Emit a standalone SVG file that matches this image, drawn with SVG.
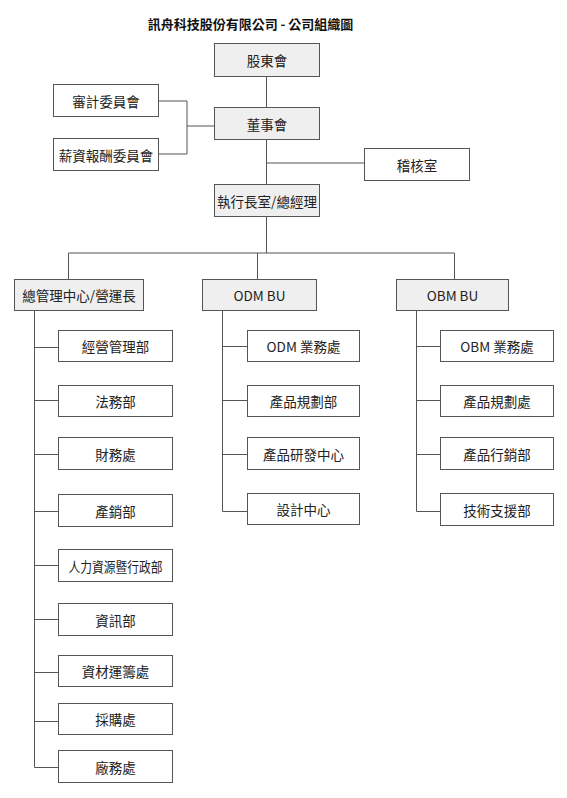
<svg xmlns="http://www.w3.org/2000/svg" width="567" height="798" viewBox="0 0 567 798">
<style>
.b{fill:#fff;stroke:#555;stroke-width:1}
.g{fill:#efefef;stroke:#555;stroke-width:1}
.t{font-family:"Noto Sans CJK TC","Noto Sans",sans-serif;font-size:13.5px;fill:#222;text-anchor:middle;dominant-baseline:central}
.title{font-family:"Noto Sans CJK TC","Noto Sans",sans-serif;font-size:13px;font-weight:bold;fill:#111;text-anchor:middle;dominant-baseline:central}
.c{fill:none;stroke:#555;stroke-width:1}
</style>
<rect width="567" height="798" fill="#fff"/>
<text class="title" x="250.5" y="23">訊舟科技股份有限公司 - 公司組織圖</text>
<g id="connectors">
<path class="c" d="M266.5 76V107M266.5 139V184M266.5 163H364M158 101H187V154H158M187 126H214M266.5 216V253M68.5 279V253H454.5V279M257.5 253V279"/>
<path class="c" d="M34.5 310V767.5H58M34.5 347.5H58M34.5 400.5H58M34.5 454.5H58M34.5 511.5H58M34.5 565.5H58M34.5 619.5H58M34.5 672.5H58M34.5 721.5H58"/>
<path class="c" d="M222.5 310V511.5H247M222.5 346.5H247M222.5 400.5H247M222.5 454.5H247"/>
<path class="c" d="M416.5 310V511.5H440M416.5 346.5H440M416.5 400.5H440M416.5 454.5H440"/>
</g>
<g id="n-shareholders"><rect class="g" x="214.5" y="43.5" width="105" height="33"/><text class="t" x="267" y="60">股東會</text></g>
<g id="n-audit-committee"><rect class="b" x="53.5" y="84.5" width="105" height="32"/><text class="t" x="106" y="101">審計委員會</text></g>
<g id="n-comp-committee"><rect class="b" x="53.5" y="138.5" width="105" height="32"/><text class="t" x="106" y="154.5">薪資報酬委員會</text></g>
<g id="n-board"><rect class="g" x="214.5" y="107.5" width="105" height="32"/><text class="t" x="267" y="123.5">董事會</text></g>
<g id="n-internal-audit"><rect class="b" x="364.5" y="148.5" width="105" height="32"/><text class="t" x="417" y="164.5">稽核室</text></g>
<g id="n-ceo"><rect class="g" x="214.5" y="184.5" width="105" height="32"/><text class="t" x="267" y="200.5">執行長室/總經理</text></g>
<g id="n-admin-center"><rect class="g" x="14.5" y="279.5" width="129" height="31"/><text class="t" x="79" y="295">總管理中心/營運長</text></g>
<g id="n-odm"><rect class="g" x="202.5" y="279.5" width="114" height="31"/><text class="t" x="259.5" y="295">ODM BU</text></g>
<g id="n-obm"><rect class="g" x="396.5" y="279.5" width="112" height="31"/><text class="t" x="452.5" y="295">OBM BU</text></g>
<g id="n-mgmt"><rect class="b" x="58.5" y="330.5" width="114" height="31"/><text class="t" x="115.5" y="346">經營管理部</text></g>
<g id="n-legal"><rect class="b" x="58.5" y="385.5" width="114" height="31"/><text class="t" x="115.5" y="401">法務部</text></g>
<g id="n-finance"><rect class="b" x="58.5" y="437.5" width="114" height="32"/><text class="t" x="115.5" y="453.5">財務處</text></g>
<g id="n-sales"><rect class="b" x="58.5" y="494.5" width="114" height="32"/><text class="t" x="115.5" y="510.5">產銷部</text></g>
<g id="n-hr"><rect class="b" x="58.5" y="549.5" width="114" height="32"/><text class="t" x="115.5" y="565.5" textLength="94" lengthAdjust="spacingAndGlyphs">人力資源暨行政部</text></g>
<g id="n-it"><rect class="b" x="58.5" y="603.5" width="114" height="32"/><text class="t" x="115.5" y="619.5">資訊部</text></g>
<g id="n-logistics"><rect class="b" x="58.5" y="655.5" width="114" height="31"/><text class="t" x="115.5" y="671">資材運籌處</text></g>
<g id="n-purchasing"><rect class="b" x="58.5" y="703.5" width="114" height="31"/><text class="t" x="115.5" y="719">採購處</text></g>
<g id="n-facilities"><rect class="b" x="58.5" y="750.5" width="114" height="32"/><text class="t" x="115.5" y="766.5">廠務處</text></g>
<g id="n-odm-biz"><rect class="b" x="247.5" y="330.5" width="112" height="31"/><text class="t" x="303.5" y="346">ODM 業務處</text></g>
<g id="n-odm-plan"><rect class="b" x="247.5" y="385.5" width="112" height="31"/><text class="t" x="303.5" y="401">產品規劃部</text></g>
<g id="n-odm-rd"><rect class="b" x="247.5" y="437.5" width="112" height="32"/><text class="t" x="303.5" y="453.5">產品研發中心</text></g>
<g id="n-odm-design"><rect class="b" x="247.5" y="493.5" width="112" height="31"/><text class="t" x="303.5" y="509">設計中心</text></g>
<g id="n-obm-biz"><rect class="b" x="440.5" y="330.5" width="113" height="31"/><text class="t" x="497" y="346">OBM 業務處</text></g>
<g id="n-obm-plan"><rect class="b" x="440.5" y="385.5" width="113" height="31"/><text class="t" x="497" y="401">產品規劃處</text></g>
<g id="n-obm-mkt"><rect class="b" x="440.5" y="437.5" width="113" height="32"/><text class="t" x="497" y="453.5">產品行銷部</text></g>
<g id="n-obm-tech"><rect class="b" x="440.5" y="493.5" width="113" height="32"/><text class="t" x="497" y="509.5">技術支援部</text></g>
</svg>
